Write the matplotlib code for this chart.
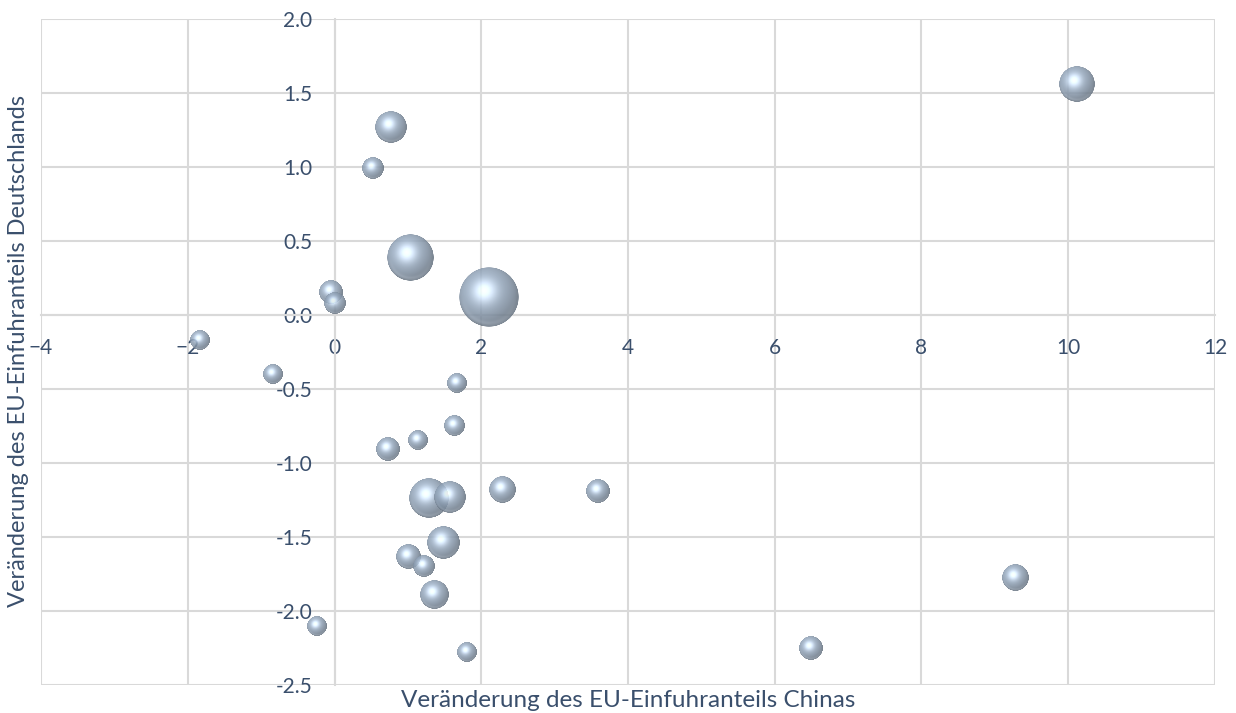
import numpy as np
import matplotlib
matplotlib.use("Agg")
import matplotlib.pyplot as plt
from matplotlib.offsetbox import OffsetImage, AnnotationBbox

# data: change of China's EU import share vs. change of Germany's share, bubble = weight
x_china = [10.12, 0.77, 0.52, 1.03, 2.10, -0.06, 0.00, -1.83, -0.84, 1.67,
           1.63, 1.14, 0.73, 1.28, 1.57, 2.28, 3.58, 1.49, 1.00, 1.22,
           1.36, 1.81, -0.24, 6.49, 9.27]
y_germany = [1.56, 1.27, 0.99, 0.385, 0.12, 0.155, 0.08, -0.17, -0.40, -0.46,
             -0.75, -0.845, -0.91, -1.24, -1.23, -1.18, -1.19, -1.54, -1.635, -1.70,
             -1.89, -2.28, -2.10, -2.25, -1.78]
bubble_size = [36, 27, 13, 61, 100, 15, 13, 11, 11, 11,
               12, 11, 15, 44, 27, 19, 15, 30, 17, 13,
               22, 11, 11, 16, 19]

x_ticks = [-4, -2, 0, 2, 4, 6, 8, 10, 12]
y_ticks = [-2.5, -2.0, -1.5, -1.0, -0.5, 0.0, 0.5, 1.0, 1.5, 2.0]

text_col = "#3A4F6C"
grid_col = "#D9D9D9"

plt.rcParams["font.family"] = ["Lato", "DejaVu Sans"]


def sphere_texture(n=256):
    c = (n - 1) / 2
    yy, xx = np.mgrid[0:n, 0:n]
    u = (xx - c) / c
    v = (c - yy) / c
    r2 = u ** 2 + v ** 2
    r = np.sqrt(r2)
    z = np.sqrt(np.clip(1 - r2, 0, 1))
    L = np.array([-0.3, 0.4, 0.87])
    L = L / np.linalg.norm(L)
    diff = np.clip(u * L[0] + v * L[1] + z * L[2], 0, 1)
    H = L + np.array([0, 0, 1.0])
    H = H / np.linalg.norm(H)
    spec = np.clip(u * H[0] + v * H[1] + z * H[2], 0, 1) ** 12
    base = np.array([0.56, 0.63, 0.71])
    img = np.zeros((n, n, 4))
    for k in range(3):
        img[..., k] = base[k] * (0.7 + 0.4 * diff) + 0.38 * spec
    rim = np.exp(-((r - 0.88) / 0.08) ** 2) * np.clip(-v, 0, 1)
    img[..., :3] += 0.10 * rim[..., None]
    img[..., :3] = np.clip(img[..., :3], 0, 1)
    img[..., 3] = np.clip((1 - r) * c * 0.5, 0, 1) * 0.85
    return img


fig = plt.figure(figsize=(12.36, 7.13), dpi=100)
ax = fig.add_axes([0.0332, 0.0393, 0.9498, 0.9341])
ax.set_xlim(-4, 12)
ax.set_ylim(-2.5, 2.0)
ax.set_xticks(x_ticks)
ax.set_yticks(y_ticks)
ax.set_yticklabels([f"{t:.1f}" for t in y_ticks])
ax.grid(True, color=grid_col, linewidth=1.5)
ax.set_axisbelow(True)
for gl in ax.get_xgridlines() + ax.get_ygridlines():
    gl.set_clip_on(False)

for side in ["top", "right"]:
    ax.spines[side].set_visible(False)
ax.spines["left"].set_position(("data", 0))
ax.spines["bottom"].set_position(("data", 0))
for side in ["left", "bottom"]:
    ax.spines[side].set_color(grid_col)
    ax.spines[side].set_linewidth(1.5)
ax.tick_params(axis="both", length=0, labelsize=15, labelcolor=text_col)
ax.tick_params(axis="y", pad=16)
ax.tick_params(axis="x", pad=16.5)

tex = sphere_texture()
dmax = 60.0
smax = max(bubble_size)
for xv, yv, sv in zip(x_china, y_germany, bubble_size):
    d = dmax * np.sqrt(sv / smax)
    im = OffsetImage(tex, zoom=d / tex.shape[0], dpi_cor=False)
    ab = AnnotationBbox(im, (xv, yv), frameon=False, pad=0, zorder=5)
    ax.add_artist(ab)

fig.text(0.5085, 0.009, "Veränderung des EU-Einfuhranteils Chinas",
         ha="center", va="baseline", fontsize=17.5, color=text_col)
fig.text(0.0150, 0.508, "Veränderung des EU-Einfuhranteils Deutschlands",
         ha="center", va="center", rotation=90, fontsize=17, color=text_col)

fig.savefig("out.png", dpi=100)
